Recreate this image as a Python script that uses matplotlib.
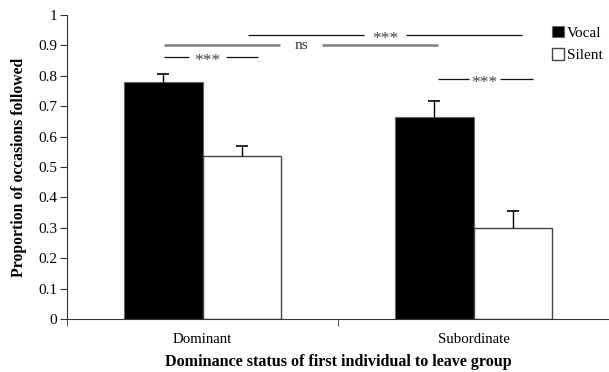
import matplotlib.pyplot as plt
import numpy as np

plt.rcParams['font.family'] = ['Liberation Serif', 'DejaVu Serif']

groups = ['Dominant', 'Subordinate']
vocal = [0.78, 0.665]
silent = [0.535, 0.298]
vocal_err = [0.025, 0.051]
silent_err = [0.033, 0.058]
yticks = [0, 0.1, 0.2, 0.3, 0.4, 0.5, 0.6, 0.7, 0.8, 0.9, 1]
ytick_labels = ['0', '0.1', '0.2', '0.3', '0.4', '0.5', '0.6', '0.7', '0.8', '0.9', '1']

# significance brackets: (x start, x end, gap start, gap end, y, label, style)
sig_lines = [
    (0.168, 1.179, 0.595, 0.752, 0.935, '***', 'dark'),
    (-0.142, 0.868, 0.285, 0.442, 0.900, 'ns', 'grey'),
    (-0.142, 0.204, -0.051, 0.088, 0.863, '***', 'dark'),
    (0.868, 1.218, 0.982, 1.099, 0.790, '***', 'dark'),
]

fig = plt.figure(figsize=(6.09, 3.72), dpi=100)
ax = fig.add_axes([67/609, 1 - 319/372, 1 - 67/609, 304/372])

x = np.arange(len(groups))
w = 0.288
ax.bar(x - w/2, vocal, w, color='black', edgecolor='#666666', linewidth=0.8, label='Vocal', zorder=2)
ax.bar(x + w/2, silent, w, color='white', edgecolor='#444444', linewidth=1, label='Silent', zorder=2)

# upward-only error bars with a cap on top
for xs, ys, es in [(x - w/2, vocal, vocal_err), (x + w/2, silent, silent_err)]:
    ys = np.array(ys)
    es = np.array(es)
    ax.vlines(xs, ys, ys + es, color='black', lw=1, zorder=3)
    ax.plot(xs, ys + es, ls='none', marker='_', ms=9, mew=1.2, color='black', zorder=3)

for x0, x1, g0, g1, y, lab, style in sig_lines:
    if style == 'grey':
        c, lw, tc = '#7f7f7f', 1.8, '#333333'
    else:
        c, lw, tc = '#111111', 0.9, '#444444'
    ax.plot([x0, g0], [y, y], color=c, lw=lw, solid_capstyle='butt')
    ax.plot([g1, x1], [y, y], color=c, lw=lw, solid_capstyle='butt')
    if lab == 'ns':
        ax.text((g0 + g1) / 2, y, lab, ha='center', va='center', fontsize=11, color=tc)
    else:
        ax.text((g0 + g1) / 2, y - 0.014, lab, ha='center', va='center', fontsize=12.5, color=tc)

ax.set_xlim(-0.5, 1.478)
ax.set_ylim(0, 1)
ax.set_yticks(yticks)
ax.set_yticklabels(ytick_labels, fontsize=11)
ax.set_xticks(x)
ax.set_xticklabels(groups, fontsize=10.7)
ax.set_xticks([-0.5, 0.5, 1.5], minor=True)
ax.tick_params(axis='x', which='major', length=0, pad=10)
ax.tick_params(axis='x', which='minor', length=5, direction='out', color='#333333')
ax.tick_params(axis='y', length=5, direction='out', color='#333333', pad=2)
for s in ['top', 'right']:
    ax.spines[s].set_visible(False)
for s in ['left', 'bottom']:
    ax.spines[s].set_color('#333333')

ax.set_ylabel('Proportion of occasions followed', fontsize=11.3, fontweight='bold', labelpad=8)
ax.set_xlabel('Dominance status of first individual to leave group', fontsize=11.6, fontweight='bold', labelpad=6)

ax.legend(loc='upper right', bbox_to_anchor=(1.0, 0.985), frameon=False, fontsize=11,
          handlelength=0.8, handleheight=0.8, handletextpad=0.2, labelspacing=0.55, borderaxespad=0)

fig.savefig('out.png', dpi=100)
